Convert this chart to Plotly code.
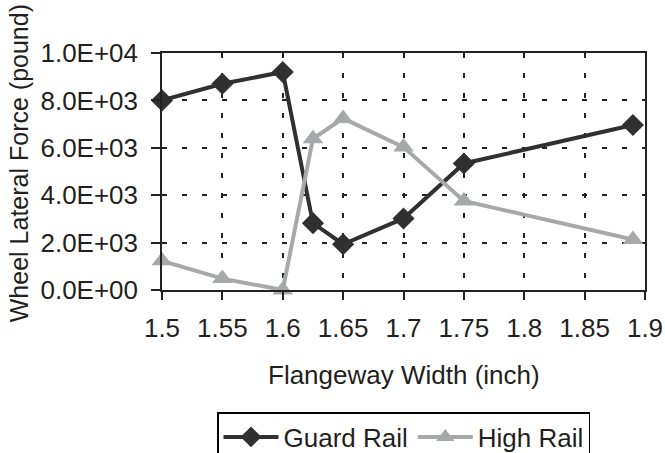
import plotly.graph_objects as go

# Data
flangeway_width = [1.5, 1.55, 1.6, 1.625, 1.65, 1.7, 1.75, 1.89]
guard_rail = [8000, 8700, 9200, 2820, 1930, 3020, 5340, 6960]
high_rail = [1230, 480, 0, 6380, 7240, 6030, 3760, 2130]

x_tick_vals = [1.5, 1.55, 1.6, 1.65, 1.7, 1.75, 1.8, 1.85, 1.9]
x_tick_text = ["1.5", "1.55", "1.6", "1.65", "1.7", "1.75", "1.8", "1.85", "1.9"]
y_tick_vals = [0, 2000, 4000, 6000, 8000, 10000]
y_tick_text = ["0.0E+00", "2.0E+03", "4.0E+03", "6.0E+03", "8.0E+03", "1.0E+04"]

FONT = "Liberation Sans, Arial, Helvetica, sans-serif"
TXT = "#231f20"
DARK = "#303030"
GREY = "#a7a8aa"

fig = go.Figure()
fig.add_trace(go.Scatter(
    x=flangeway_width, y=guard_rail, name="Guard Rail", mode="lines+markers",
    line=dict(color=DARK, width=4),
    marker=dict(symbol="diamond", size=17, color=DARK),
    cliponaxis=False,
))
fig.add_trace(go.Scatter(
    x=flangeway_width, y=high_rail, name="High Rail", mode="lines+markers",
    line=dict(color=GREY, width=4),
    marker=dict(symbol="triangle-up", size=18, color=GREY),
    cliponaxis=False,
))

fig.update_layout(
    width=665, height=453,
    margin=dict(l=162, r=20, t=53, b=163, autoexpand=False),
    paper_bgcolor="white", plot_bgcolor="white",
    font=dict(family=FONT, size=26, color=TXT),
    showlegend=True,
    legend=dict(
        orientation="h", x=0.5, xanchor="center", xref="paper",
        y=-0.515, yanchor="top",
        bordercolor="#000000", borderwidth=1.5,
        font=dict(size=26, color=TXT),
        itemwidth=55, tracegroupgap=0,
    ),
    xaxis=dict(
        range=[1.5, 1.9], tickvals=x_tick_vals, ticktext=x_tick_text,
        showline=True, linecolor="#222222", linewidth=1.5, mirror=True,
        ticks="outside", ticklen=8, tickwidth=1.5, tickcolor="#222222",
        showgrid=True, gridcolor="#222222", gridwidth=1.5, griddash="5px,15px",
        zeroline=False, ticklabelstandoff=6,
    ),
    yaxis=dict(
        range=[0, 10000], tickvals=y_tick_vals, ticktext=y_tick_text,
        showline=True, linecolor="#222222", linewidth=1.5, mirror=True,
        ticks="outside", ticklen=9, tickwidth=1.5, tickcolor="#222222",
        showgrid=True, gridcolor="#222222", gridwidth=1.5, griddash="5px,15px",
        zeroline=False, ticklabelstandoff=8,
    ),
    annotations=[
        dict(text="Flangeway Width (inch)", xref="paper", yref="paper",
             x=0.5, y=-0.36, xanchor="center", yanchor="middle",
             showarrow=False, font=dict(size=26, color=TXT)),
        dict(text="Wheel Lateral Force (pound)", xref="paper", yref="paper",
             x=-0.296, y=0.535, xanchor="center", yanchor="middle", textangle=-90,
             showarrow=False, borderpad=0, font=dict(size=25, color=TXT)),
    ],
)

fig.write_html("out.html")
